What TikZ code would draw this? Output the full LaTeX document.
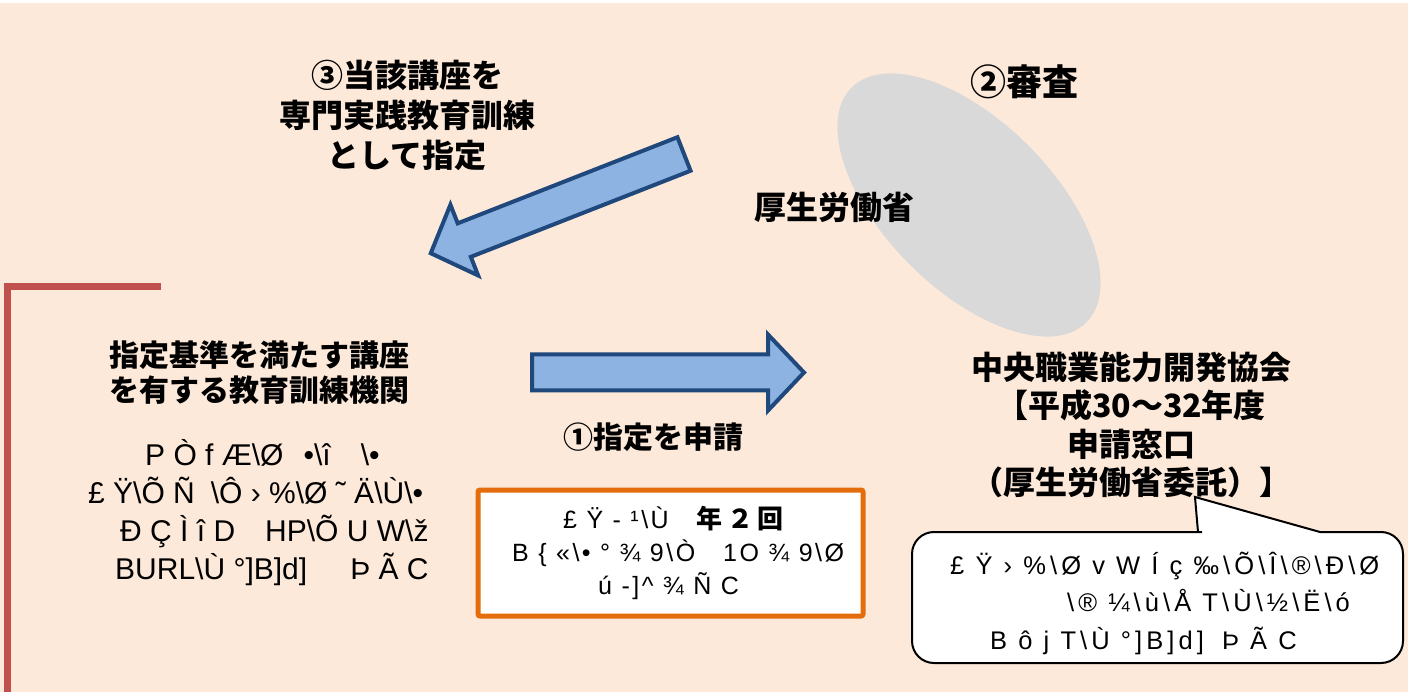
\documentclass[tikz,border=0pt]{standalone}
\usepackage{fontspec}
\setmainfont{Liberation Sans}
\newfontfamily\jp{Noto Sans CJK JP}
\newcommand\bs{\textbackslash}
\definecolor{peach}{HTML}{FDE9D9}
\definecolor{linered}{HTML}{C0504D}
\definecolor{arrowblue}{HTML}{8DB3E2}
\definecolor{arrowedge}{HTML}{1F497D}
\definecolor{mhlwgray}{HTML}{D9D9D9}
\definecolor{boxorange}{HTML}{E46C0A}

\begin{document}
\begin{tikzpicture}[x=1pt, y=-1pt]
  \tikzset{
    jtext/.style={
      font=\jp\bfseries\fontsize{30}{39}\selectfont, align=center, inner sep=0
    },
    gtext/.style={
      font=\fontsize{30}{38}\selectfont, align=left, anchor=west, inner sep=0
    },
    balloon/.style={
      draw=black, fill=white, line width=2pt
    },
    blockarrow/.pic={
      \draw [fill=arrowblue, draw=arrowedge, line width=4pt]
        (0,-18) -- (236,-18) -- (236,-38) -- (272,0) -- (236,38) -- (236,18) -- (0,18) -- cycle;
    }
  }
  \useasboundingbox (0,0) rectangle (1408,692);
  \fill [white] (0,0) rectangle (1408,692);
  \fill [peach] (0,3) rectangle (1408,692);

  \fill [mhlwgray, rotate around={-45:(969,205)}] (969,205) ellipse [x radius=166pt, y radius=84pt];

  \pic [rotate=201.4] at (684,154) {blockarrow};
  \pic at (532,372.5) {blockarrow};

  \draw [linered, line width=7pt] (161,287) -- (7,287) -- (7,692);

  \node [draw=boxorange, line width=5pt, fill=white, rounded corners=2pt,
    minimum width=385pt, minimum height=126pt, inner sep=0] (freqbox) at (670.5,553) {};

  % callout round the note on the right
  \draw [balloon] (1195,497) -- (1320,532) -- (1380,532) [rounded corners=22pt] -- (1403,532)
    -- (1403,663) -- (912,663) -- (912,532) -- (1180,532) [sharp corners] -- (1198,532) -- cycle;

  \node [jtext, font=\jp\bfseries\fontsize{32}{40}\selectfont] (designate) at (407,115)
    {③当該講座を\\専門実践教育訓練\\として指定};
  \node [jtext, font=\jp\bfseries\fontsize{36}{40}\selectfont] (review) at (1024,82) {②審査};
  \node [jtext, font=\jp\bfseries\fontsize{32}{40}\selectfont] (mhlw) at (834,207) {厚生労働省};
  \node [jtext, font=\jp\bfseries\fontsize{30}{35}\selectfont] (institution) at (259,373)
    {指定基準を満たす講座\\を有する教育訓練機関};
  \node [jtext] (apply) at (653,437) {①指定を申請};
  \node [jtext, font=\jp\bfseries\fontsize{32}{38.5}\selectfont] (jaed) at (1131,425)
    {中央職業能力開発協会\\【平成30～32年度\\申請窓口\\（厚生労働省委託）】};

  \node [gtext] (institutiontxt) at (88,513) {%
    \hspace*{57pt}P Ò f Æ\bs Ø\hspace{20pt}•\bs î\hspace{30pt}\bs •\\
    £ Ÿ\bs Õ Ñ\hspace{16pt}\bs Ô › \%\bs Ø ˜ Ä\bs Ù\bs •\\
    \hspace*{32pt}Đ Ç Ì î D\hspace{30pt}HP\bs Õ U W\bs ž\\
    \hspace*{27pt}BURL\bs Ù °]B]d]\hspace{43pt}Þ Ã C};
  \node [gtext, font=\fontsize{25}{33}\selectfont\addfontfeature{LetterSpace=10}] (freqtxt) at (512,553) {%
    \hspace*{51pt}£ Ÿ - ¹\bs Ù\hspace{28pt}{\jp\bfseries\fontsize{26}{33}\selectfont 年\,２\,回}\\
    B \{ «\bs • ° ¾ 9\bs Ò\hspace{28pt}1O ¾ 9\bs Ø\\
    \hspace*{86pt}ú -]\textasciicircum{} ¾ Ñ C};
  \node [gtext, font=\fontsize{25.5}{37.5}\selectfont\addfontfeature{LetterSpace=16}] (balloontxt) at (950,603) {%
    £ Ÿ › \%\bs Ø v W Í ç ‰\bs Õ\bs Î\bs ®\bs Đ\bs Ø\\
    \hspace*{117pt}\bs ® ¼\bs ù\bs Å T\bs Ù\bs ½\bs Ë\bs ó\\
    \hspace*{40pt}B ô j T\bs Ù °]B]d]\hspace{18pt}Þ Ã C};
\end{tikzpicture}
\end{document}
